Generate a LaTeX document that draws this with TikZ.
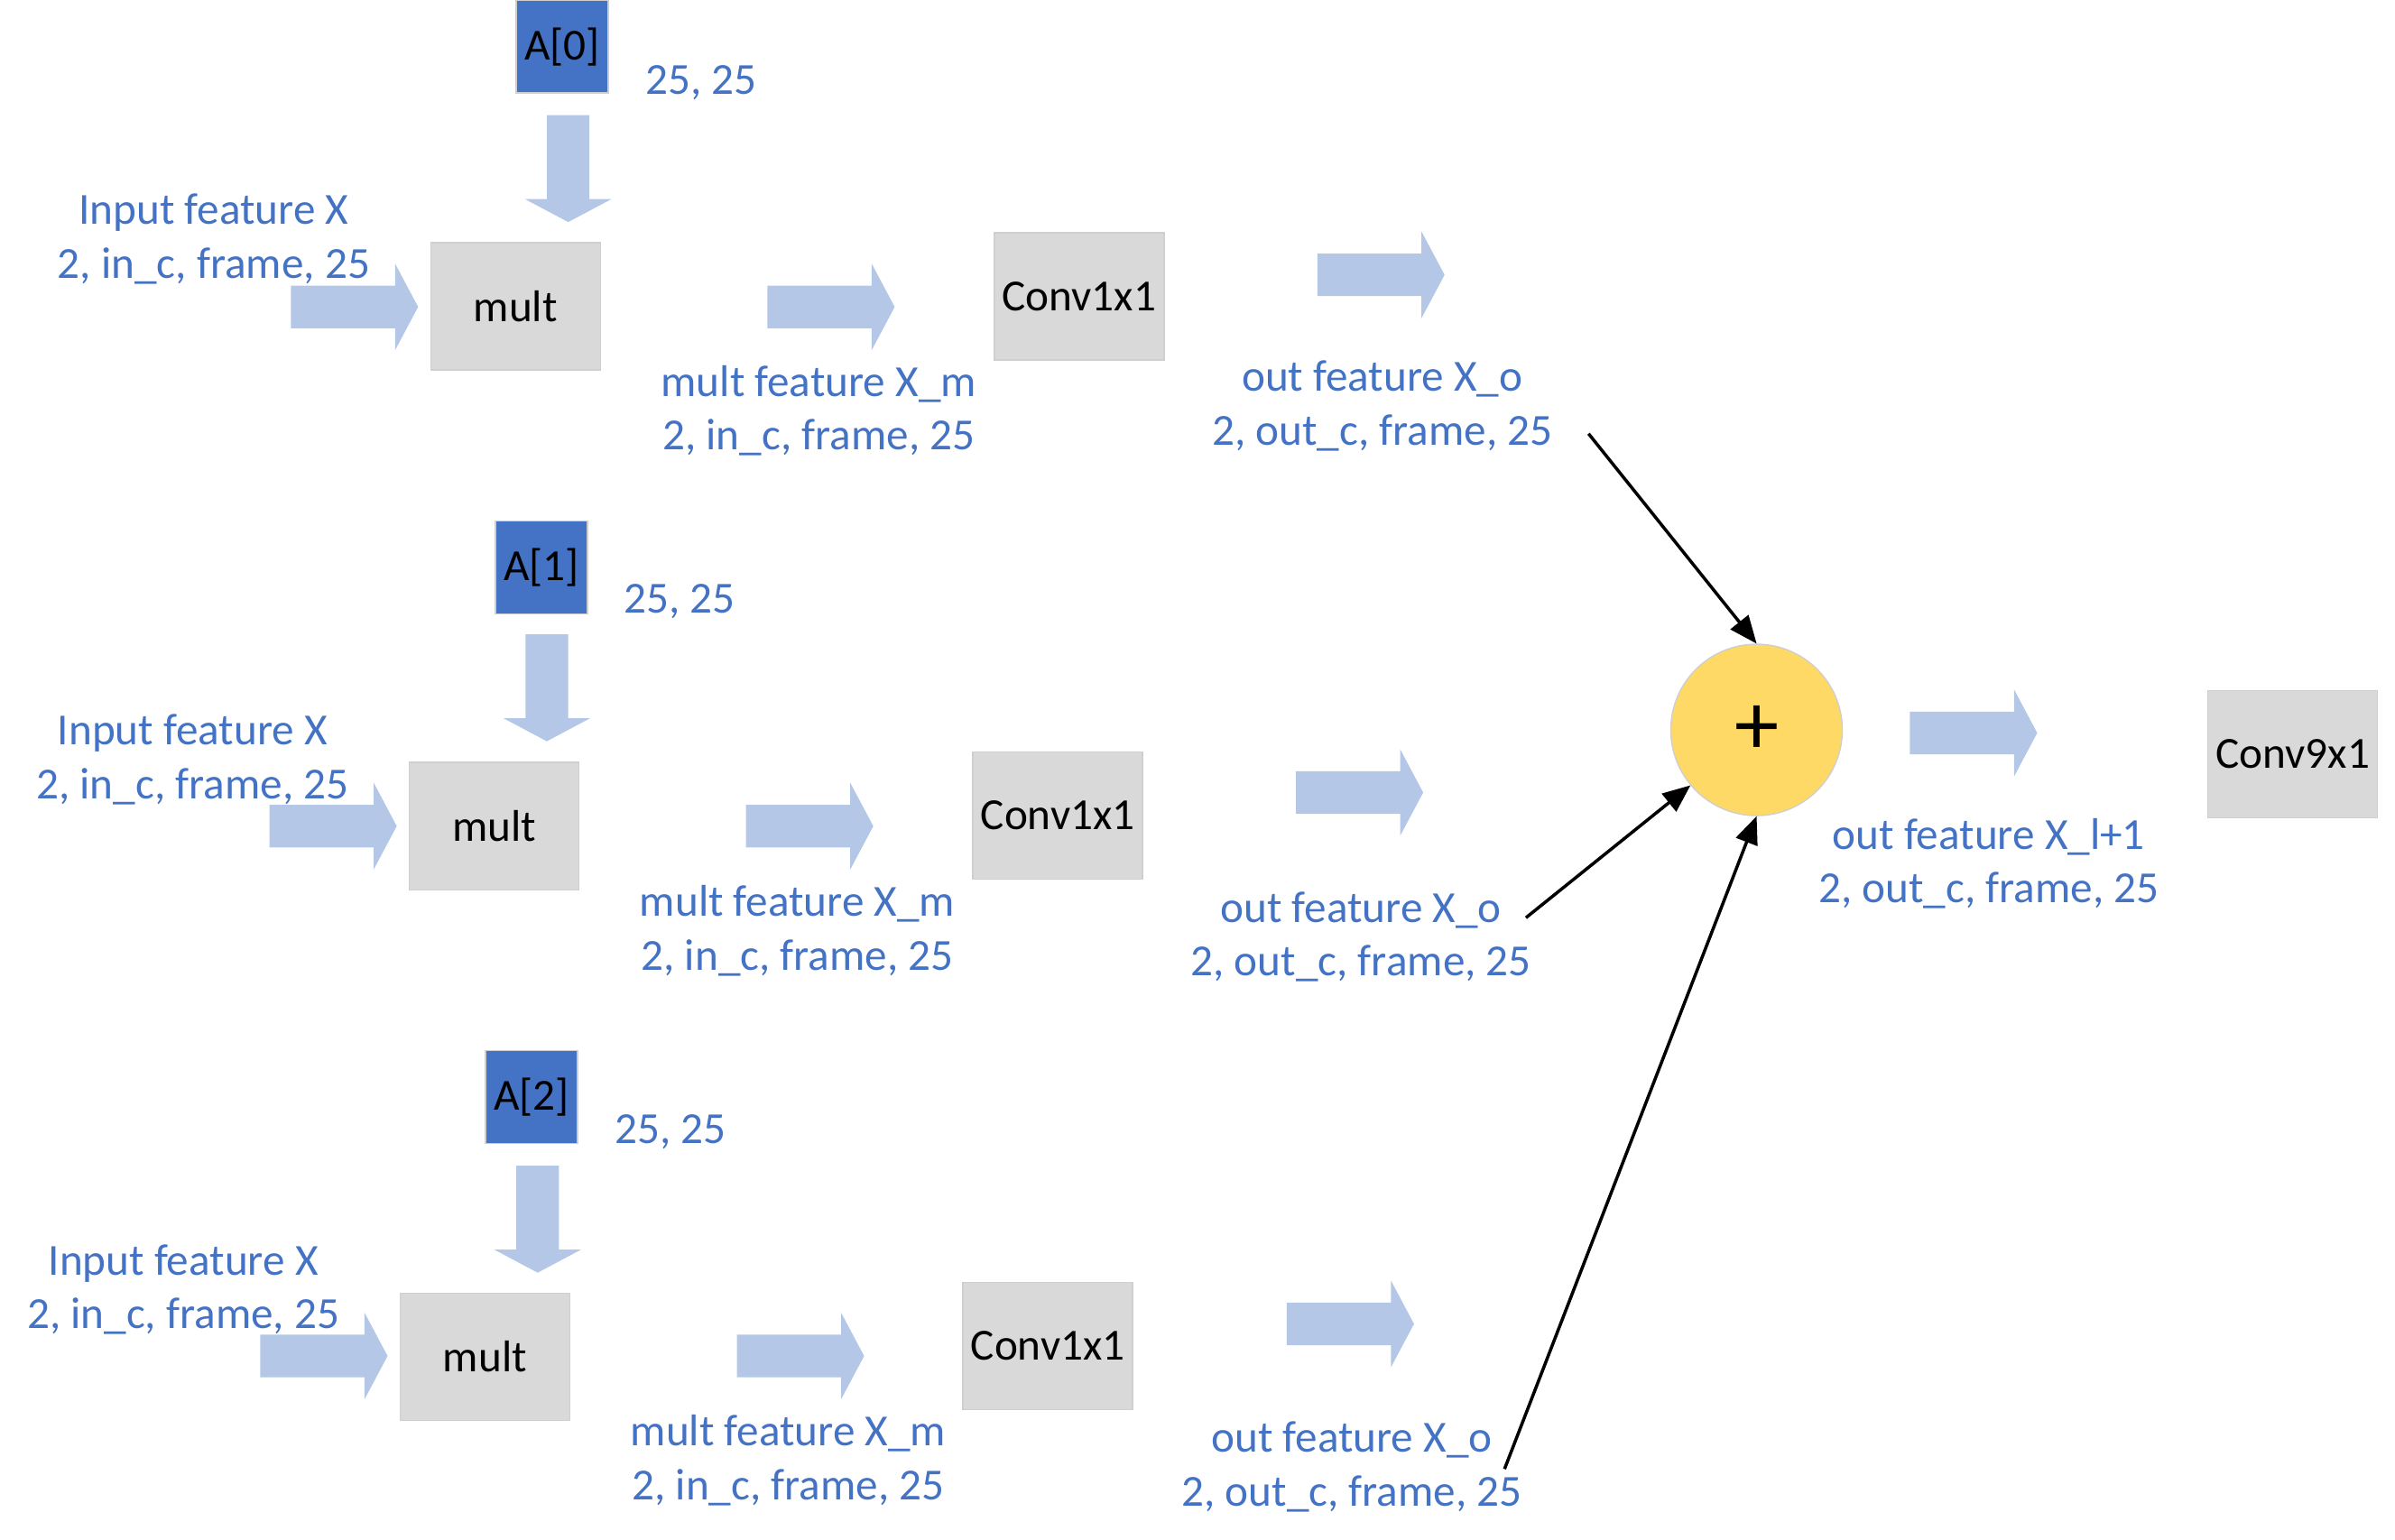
\documentclass[tikz,border=0pt]{standalone}
\usepackage{fontspec}
\setmainfont{Carlito}
\usepackage{xcolor}
\usepackage{tikz}
\usetikzlibrary{arrows}
\usetikzlibrary{shapes.arrows}

\definecolor{lblblue}{HTML}{4472C4}
\definecolor{arrowblue}{HTML}{B4C7E7}
\definecolor{boxgray}{HTML}{D9D9D9}
\definecolor{edgegray}{HTML}{CFCFCF}
\definecolor{sumyellow}{HTML}{FFD966}

\tikzset{
  lbl/.style={text=lblblue, align=center, inner sep=0pt},
  graybox/.style={fill=boxgray, draw=edgegray, line width=0.4pt, minimum width=1.88cm, minimum height=1.41cm, inner sep=0pt},
  adjbox/.style={fill=lblblue, draw=edgegray, line width=0.4pt, minimum width=1.02cm, minimum height=1.03cm, inner sep=0pt},
  fatarrow/.style={single arrow, fill=arrowblue, draw=none, inner xsep=0pt, inner ysep=0.2285cm,
    single arrow head extend=0.245cm, single arrow tip angle=124, minimum height=1.41cm, anchor=tail},
  downarrow/.style={fatarrow, inner xsep=0.2285cm, inner ysep=0pt, minimum height=1.185cm, shape border rotate=270},
  sumnode/.style={circle, fill=sumyellow, draw=edgegray, line width=0.4pt, minimum size=1.9cm, inner sep=0pt},
  link/.style={-triangle 45, line width=1pt}
}

\begin{document}
\begin{tikzpicture}[x=0.016926cm, y=-0.016926cm, font=\fontsize{14}{17}\selectfont]
  \useasboundingbox (0,0) rectangle (1568,1008);

  % first row
  \node[adjbox] (A0) at (368,30.5) {A[0]};
  \node[lbl] (A0size) at (459,54) {25, 25};
  \node[downarrow] (A0arr) at (372,75) {};
  \node[lbl] (in0) at (140,156.5) {Input feature X\\2, in\_c, frame, 25};
  \node[fatarrow] (in0arr) at (190,201) {};
  \node[graybox] (mult0) at (337.5,200.5) {mult};
  \node[fatarrow] (mult0arr) at (502,201) {};
  \node[lbl] (xm0) at (536,269) {mult feature X\_m\\2, in\_c, frame, 25};
  \node[graybox] (conv0) at (706.5,194) {Conv1x1};
  \node[fatarrow] (conv0arr) at (862,180) {};
  \node[lbl] (xo0) at (905,266) {out feature X\_o\\2, out\_c, frame, 25};
  \coordinate (xo0end) at (1040,284);

  % second row
  \node[adjbox] (A1) at (354.5,371.5) {A[1]};
  \node[lbl] (A1size) at (445,394) {25, 25};
  \node[downarrow] (A1arr) at (358,415) {};
  \node[lbl] (in1) at (126,497.5) {Input feature X\\2, in\_c, frame, 25};
  \node[fatarrow] (in1arr) at (176,541) {};
  \node[graybox] (mult1) at (323.5,541) {mult};
  \node[fatarrow] (mult1arr) at (488,541) {};
  \node[lbl] (xm1) at (522,609.5) {mult feature X\_m\\2, in\_c, frame, 25};
  \node[graybox] (conv1) at (692.5,534) {Conv1x1};
  \node[fatarrow] (conv1arr) at (848,519) {};
  \node[lbl] (xo1) at (891,613.5) {out feature X\_o\\2, out\_c, frame, 25};
  \coordinate (xo1end) at (999,601);

  % third row
  \node[adjbox] (A2) at (348,718.5) {A[2]};
  \node[lbl] (A2size) at (439,741) {25, 25};
  \node[downarrow] (A2arr) at (352,763) {};
  \node[lbl] (in2) at (120,844.5) {Input feature X\\2, in\_c, frame, 25};
  \node[fatarrow] (in2arr) at (170,888) {};
  \node[graybox] (mult2) at (317.5,888.5) {mult};
  \node[fatarrow] (mult2arr) at (482,888) {};
  \node[lbl] (xm2) at (516,956.5) {mult feature X\_m\\2, in\_c, frame, 25};
  \node[graybox] (conv2) at (686,881.5) {Conv1x1};
  \node[fatarrow] (conv2arr) at (842,867) {};
  \node[lbl] (xo2) at (885,960.5) {out feature X\_o\\2, out\_c, frame, 25};
  \coordinate (xo2end) at (985,962);

  % sum and temporal conv
  \node[sumnode] (sum) at (1150,478) {\fontsize{28}{30}\selectfont +};
  \node[fatarrow] (sumarr) at (1250,480) {};
  \node[lbl] (xl) at (1302,565.5) {out feature X\_l+1\\2, out\_c, frame, 25};
  \node[graybox] (conv9) at (1501,494) {Conv9x1};

  \draw[link] (xo0end) -- (sum.north);
  \draw[link] (xo1end) -- (sum.220);
  \draw[link] (xo2end) -- (sum.south);
\end{tikzpicture}
\end{document}
